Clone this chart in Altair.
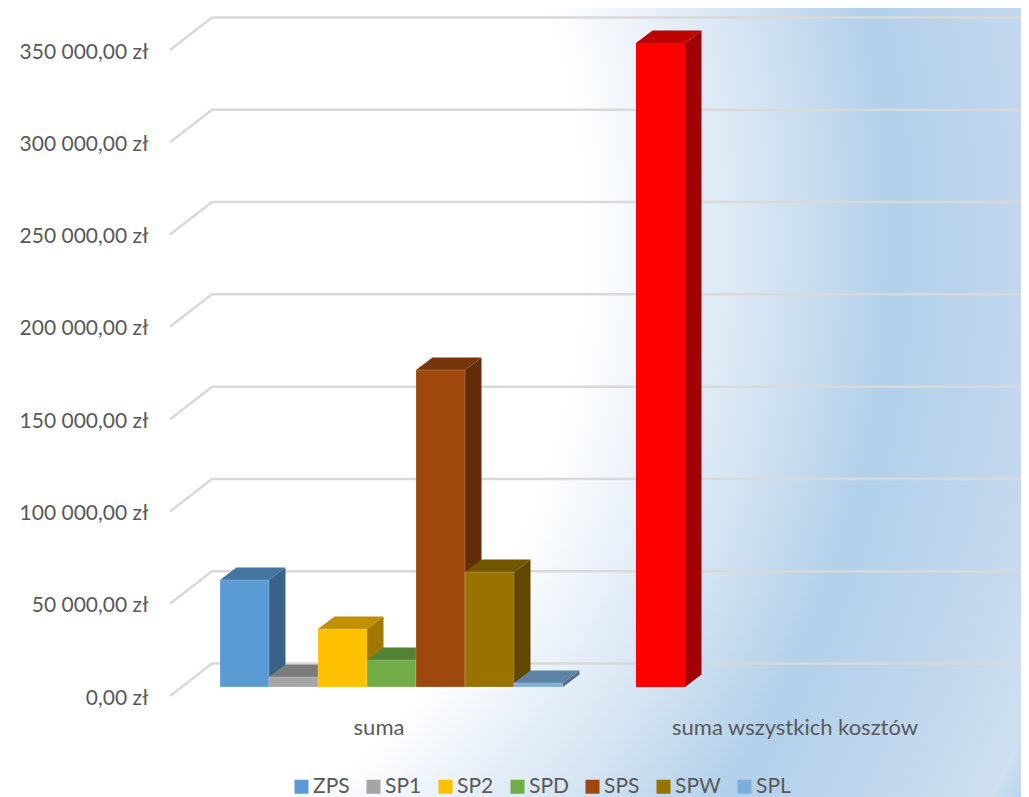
import altair as alt
import pandas as pd

# ---- data ----
SERIES = ["ZPS", "SP1", "SP2", "SPD", "SPS", "SPW", "SPL"]
SERIES_VALUES = [58000, 5400, 31400, 14600, 171700, 62300, 2200]
SERIES_COLORS = ["#5B9BD5", "#A5A5A5", "#FFC000", "#70AD47", "#9E480E", "#997300", "#7CAFDD"]
TOTAL_LABEL = "suma wszystkich kosztów"
TOTAL_VALUE = 348900
TOTAL_COLOR = "#FF0000"
GROUP_LABEL = "suma"
TICKS = [0, 50000, 100000, 150000, 200000, 250000, 300000, 350000]

# ---- layout (pixels inside the chart) ----
W, H = 1013, 789
PX_PER_ZL = 646 / 350000
BASE_Y = 679                # pixel of value 0 on the plane of the bar fronts
BAR_W = 49
DEPTH_X, DEPTH_Y = 16.5, 12.5
GROUP_LEFT = 212
TOTAL_LEFT = 628
GROUP_LABEL_X, TOTAL_LABEL_X = 371, 787
GRID_FRONT_X, GRID_BACK_X = 162, 204
GRID_FRONT_DY, GRID_BACK_DY = 9, 23.5
FONT = "Lato"
TEXT = "#595959"


def shade(hex_color, f):
    r, g, b = (int(hex_color[i:i + 2], 16) for i in (1, 3, 5))
    return "#%02x%02x%02x" % (round(r * f), round(g * f), round(b * f))


bars = [
    {"name": s, "left": GROUP_LEFT + i * BAR_W, "value": v, "color": c}
    for i, (s, v, c) in enumerate(zip(SERIES, SERIES_VALUES, SERIES_COLORS))
] + [{"name": TOTAL_LABEL, "left": TOTAL_LEFT, "value": TOTAL_VALUE, "color": TOTAL_COLOR}]

dv = DEPTH_Y / PX_PER_ZL
front_rows, side_rows, top_rows = [], [], []
for b in bars:
    l, r, v = b["left"], b["left"] + BAR_W, b["value"]
    front_rows.append({"name": b["name"], "x": l, "x2": r, "y": v, "y2": 0})
    side_rows += [
        {"name": b["name"], "x": r, "lo": 0, "hi": v, "fill": shade(b["color"], 0.63)},
        {"name": b["name"], "x": r + DEPTH_X, "lo": dv, "hi": v + dv, "fill": shade(b["color"], 0.63)},
    ]
    top_rows += [
        {"name": b["name"], "y": v, "l": l, "r": r, "fill": shade(b["color"], 0.75)},
        {"name": b["name"], "y": v + dv, "l": l + DEPTH_X, "r": r + DEPTH_X, "fill": shade(b["color"], 0.75)},
    ]
front = pd.DataFrame(front_rows)

grid_rows = []
for t in TICKS:
    grid_rows += [
        {"tick": t, "x": GRID_FRONT_X, "v": t - GRID_FRONT_DY / PX_PER_ZL},
        {"tick": t, "x": GRID_BACK_X, "v": t + GRID_BACK_DY / PX_PER_ZL},
        {"tick": t, "x": W, "v": t + GRID_BACK_DY / PX_PER_ZL},
    ]

y_axis = alt.Axis(
    values=TICKS, domain=False, ticks=False, grid=False, title=None, zindex=1,
    offset=-140, labelPadding=0, labelFont=FONT, labelFontSize=21, labelColor=TEXT,
    labelOffset=11, labelBaseline="middle", labelFlush=False, labelOverlap=False,
    labelExpr="replace(replace(format(datum.value, ',.2f'), ',', ' '), '.', ',') + ' zł'",
)

xs = alt.Scale(domain=[0, W], range=[0, W], nice=False, zero=False)
ys = alt.Scale(domain=[(BASE_Y - H) / PX_PER_ZL, BASE_Y / PX_PER_ZL], range=[H, 0], nice=False, zero=False)
X = lambda f: alt.X(f, type="quantitative", scale=xs, axis=None)
Y = lambda f: alt.Y(f, type="quantitative", scale=ys, axis=y_axis)

# background: a circular sweep from white through blue
bg = alt.Chart(pd.DataFrame({"a": [0]})).mark_rect(
    clip=True,
    color=alt.RadialGradient(
        gradient="radial",
        x1=-0.117, y1=0.229, r1=0,
        x2=-0.117, y2=0.229, r2=1.27,
        stops=[
            alt.GradientStop(offset=0.0, color="#ffffff"),
            alt.GradientStop(offset=0.54, color="#ffffff"),
            alt.GradientStop(offset=0.60, color="#edf3fa"),
            alt.GradientStop(offset=0.68, color="#d6e5f3"),
            alt.GradientStop(offset=0.78, color="#b2d0ea"),
            alt.GradientStop(offset=0.89, color="#c2d8ee"),
            alt.GradientStop(offset=0.96, color="#cfe0f1"),
            alt.GradientStop(offset=1.0, color="#a9c8e8"),
        ],
    ),
).encode(x=alt.value(0), x2=alt.value(W), y=alt.value(0), y2=alt.value(W))

grid = alt.Chart(pd.DataFrame(grid_rows)).mark_line(
    color="#d9d9d9", strokeWidth=2.5, clip=True
).encode(x=X("x"), y=Y("v"), detail="tick:N", order="x:Q")

sides = alt.Chart(pd.DataFrame(side_rows)).mark_area(orient="vertical").encode(
    x=X("x"), y=Y("lo"), y2="hi", detail="name:N",
    color=alt.Color("fill:N", scale=None, legend=None),
)

tops = alt.Chart(pd.DataFrame(top_rows)).mark_area(orient="horizontal").encode(
    y=Y("y"), x=X("l"), x2="r", detail="name:N",
    color=alt.Color("fill:N", scale=None, legend=None),
)

legend = alt.Legend(
    orient="none", legendX=283, legendY=768, direction="horizontal", columns=7,
    title=None, symbolType="square", symbolSize=196, symbolStrokeWidth=0,
    labelFont=FONT, labelFontSize=21, labelColor=TEXT, labelOffset=1, columnPadding=13,
)

series_fronts = alt.Chart(front[front["name"].isin(SERIES)]).mark_bar(
    stroke="#ffffff", strokeOpacity=0.2, strokeWidth=1
).encode(
    x=X("x"), x2="x2",
    y=Y("y"), y2="y2",
    color=alt.Color("name:N", legend=legend,
                    scale=alt.Scale(domain=SERIES, range=SERIES_COLORS), sort=SERIES),
)

total_front = alt.Chart(front[front["name"] == TOTAL_LABEL]).mark_bar(color=TOTAL_COLOR).encode(
    x=X("x"), x2="x2", y=Y("y"), y2="y2"
)

labels_df = pd.DataFrame({
    "label": [GROUP_LABEL, TOTAL_LABEL],
    "x": [GROUP_LABEL_X, TOTAL_LABEL_X],
})
labels = alt.Chart(labels_df).mark_text(
    font=FONT, fontSize=22, color=TEXT, align="center", baseline="middle"
).encode(x=X("x"), y=alt.value(720), text="label:N")

chart = alt.layer(bg, grid, sides, tops, series_fronts, total_front, labels).resolve_scale(
    color="independent"
).properties(
    width=W, height=H, padding=0, autosize=alt.AutoSizeParams(type="none"), background="#ffffff"
).configure_view(stroke=None)

chart.save("out.html", embed_options={"renderer": "svg", "actions": False})
